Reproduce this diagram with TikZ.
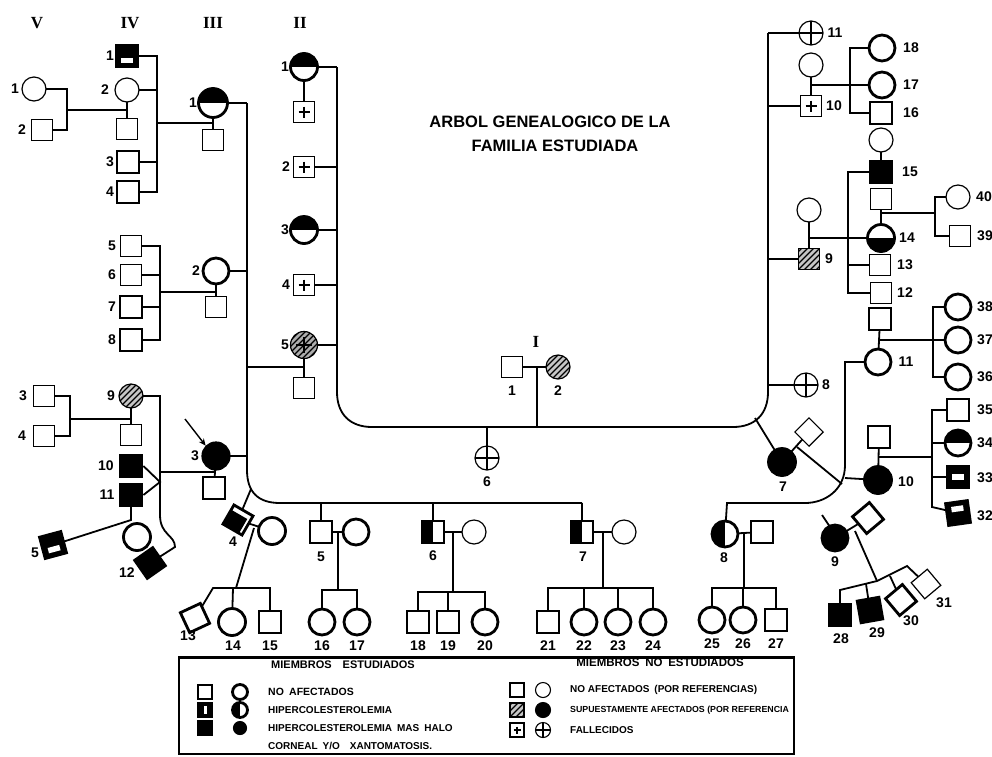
\documentclass[tikz,border=0pt]{standalone}
\usepackage{fontspec}
\setmainfont{Liberation Sans}
\newfontfamily\romf{Liberation Serif}
\usetikzlibrary{arrows.meta}
\pgfdeclarelayer{bg}
\pgfsetlayers{bg,main}
\begin{document}
\begin{tikzpicture}[x=1pt,y=-1pt,
 ln/.style={line width=1.8pt},
 sqn/.style={draw,rectangle,minimum size=21pt,inner sep=0pt,line width=1.2pt,fill=white},
 sqs/.style={sqn,line width=2.8pt,minimum size=22pt},
 cin/.style={draw,circle,minimum size=24pt,inner sep=0pt,line width=1.2pt,fill=white},
 cis/.style={cin,line width=2.8pt,minimum size=26pt},
 blk/.style={fill=black},
 lab/.style={font=\bfseries\fontsize{14}{14}\selectfont,inner sep=0pt},
 rom/.style={font=\romf\bfseries\fontsize{17}{17}\selectfont,inner sep=0pt},
 leg/.style={font=\bfseries\fontsize{10}{10}\selectfont,inner sep=0pt,anchor=west},
 htop/.style={path picture={\fill[black] (path picture bounding box.north west) rectangle (path picture bounding box.east);}},
 hbot/.style={path picture={\fill[black] (path picture bounding box.west) rectangle (path picture bounding box.south east);}},
 hleft/.style={path picture={\fill[black] (path picture bounding box.north west) rectangle (path picture bounding box.south);}},
 wbot/.style={fill=black,path picture={\fill[white] ([shift={(-6,1.5)}]path picture bounding box.center) rectangle ([shift={(6,7)}]path picture bounding box.center);}},
 wmid/.style={fill=black,path picture={\fill[white] ([shift={(-6,-3)}]path picture bounding box.center) rectangle ([shift={(6,3)}]path picture bounding box.center);}},
 wtop/.style={fill=black,path picture={\fill[white] ([shift={(-6,-7)}]path picture bounding box.center) rectangle ([shift={(6,-1.5)}]path picture bounding box.center);}},
 pls/.style={path picture={\draw[line width=1.6pt] ([shift={(-5.5,0)}]path picture bounding box.center) -- ([shift={(5.5,0)}]path picture bounding box.center) ([shift={(0,-5.5)}]path picture bounding box.center) -- ([shift={(0,5.5)}]path picture bounding box.center);}},
 plsc/.style={path picture={\draw[line width=1.6pt] ([shift={(-15,0)}]path picture bounding box.center) -- ([shift={(15,0)}]path picture bounding box.center) ([shift={(0,-15)}]path picture bounding box.center) -- ([shift={(0,15)}]path picture bounding box.center);}},
 hat/.style={fill=gray!45,path picture={\foreach \k in {-24,-18,...,24}{\draw[line width=1.1pt] ([shift={(\k-16,16)}]path picture bounding box.center) -- ++(32,-32);}}},
 hatp/.style={fill=gray!65,path picture={\foreach \k in {-24,-18,...,24}{\draw[line width=1.1pt] ([shift={(\k-16,16)}]path picture bounding box.center) -- ++(32,-32);} \draw[line width=2pt] ([shift={(-8,0)}]path picture bounding box.center) -- ([shift={(8,0)}]path picture bounding box.center) ([shift={(0,-8)}]path picture bounding box.center) -- ([shift={(0,8)}]path picture bounding box.center);}},
 lsq/.style={draw,rectangle,minimum size=14pt,inner sep=0pt,line width=1.1pt,fill=white},
 lsqs/.style={lsq,line width=2.5pt},
 lci/.style={draw,circle,minimum size=15pt,inner sep=0pt,line width=1.1pt,fill=white},
 lcis/.style={lci,line width=2.8pt},
]
\useasboundingbox (0,0) rectangle (992,756);

% ---------- generation labels and title
\node[rom] (gV) at (37,23) {V};
\node[rom] (gIV) at (130,23) {IV};
\node[rom] (gIII) at (213,23) {III};
\node[rom] (gII) at (300,23) {II};
\node[font=\bfseries\fontsize{16.5}{16}\selectfont,inner sep=0pt] (ti1) at (550,122) {ARBOL GENEALOGICO DE LA};
\node[font=\bfseries\fontsize{16.5}{16}\selectfont,inner sep=0pt] (ti2) at (555,146) {FAMILIA ESTUDIADA};

% ---------- left top
\node[sqs,wbot] (IVa) at (127,56) {};
\node[lab] (tIVa) at (110,56) {1};
\node[cin] (IVb) at (127,90) {};
\node[lab] (tIVb) at (105,90) {2};
\node[sqn] (IVbc) at (127,129) {};
\node[cin] (Va) at (34,89) {};
\node[lab] (tVa) at (15,89) {1};
\node[sqn] (Vb) at (42,130) {};
\node[lab] (tVb) at (22,130) {2};
\node[sqs] (IVc) at (128,162) {};
\node[lab] (tIVc) at (110,162) {3};
\node[sqs] (IVd) at (128,192) {};
\node[lab] (tIVd) at (110,192) {4};
\node[cis,htop,minimum size=29pt] (IIIa) at (213,103) {};
\node[lab] (tIIIa) at (193,103) {1};
\node[sqn] (IIIac) at (213,140) {};

% ---------- left middle
\node[sqn] (IVe) at (131,246) {};
\node[lab] (tIVe) at (112,246) {5};
\node[sqn] (IVf) at (131,275) {};
\node[lab] (tIVf) at (112,275) {6};
\node[sqs] (IVg) at (131,307) {};
\node[lab] (tIVg) at (112,307) {7};
\node[sqs] (IVh) at (131,340) {};
\node[lab] (tIVh) at (112,340) {8};
\node[cis] (IIIb) at (216,271) {};
\node[lab] (tIIIb) at (196,271) {2};
\node[sqn] (IIIbc) at (216,307) {};

% ---------- left lower
\node[sqn] (Vc) at (44,396) {};
\node[lab] (tVc) at (23,396) {3};
\node[sqn] (Vd) at (44,436) {};
\node[lab] (tVd) at (22,436) {4};
\node[cin,hat] (IVi) at (131,396) {};
\node[lab] (tIVi) at (111,396) {9};
\node[sqn] (IVic) at (131,435) {};
\node[sqs,blk] (IVj) at (131,466) {};
\node[lab] (tIVj) at (106,466) {10};
\node[sqs,blk] (IVk) at (131,495) {};
\node[lab] (tIVk) at (107,495) {11};
\node[cis,minimum size=27pt] (IVl) at (137,537) {};
\node[sqs,wbot,rotate=15] (Ve) at (53,545) {};
\node[lab] (tVe) at (35,553) {5};
\node[sqs,blk,rotate=35] (IVm) at (150,563) {};
\node[lab] (tIVm) at (127,573) {12};
\node[cin,blk,minimum size=28pt] (IIIc) at (216,456) {};
\node[lab] (tIIIc) at (195,456) {3};
\node[sqs] (IIIcc) at (214,488) {};
\coordinate (arw) at (185,419);
\draw[-{Stealth[length=7pt,width=6pt]},line width=1.4pt] (arw) -- (IIIc.north west);

% ---------- generation II column
\node[cis,htop,minimum size=27pt] (IIa) at (304,67) {};
\node[lab] (tIIa) at (285,67) {1};
\node[sqn,pls] (IIac) at (304,112) {};
\node[sqn,pls] (IIb) at (304,167) {};
\node[lab] (tIIb) at (286,167) {2};
\node[cis,htop,minimum size=27pt] (IIc) at (304,230) {};
\node[lab] (tIIc) at (285,230) {3};
\node[sqn,pls] (IId) at (304,285) {};
\node[lab] (tIId) at (286,285) {4};
\node[cin,hatp,minimum size=27pt] (IIe) at (304,345) {};
\node[lab] (tIIe) at (285,345) {5};
\node[sqn] (IIec) at (304,388) {};

% ---------- generation I
\node[sqn] (Ia) at (512,367) {};
\node[lab] (tIa) at (512,391) {1};
\node[cin,hat] (Ib) at (558,367) {};
\node[lab] (tIb) at (558,391) {2};
\node[font=\romf\bfseries\fontsize{17}{17}\selectfont,inner sep=0pt] (gI) at (536,342) {I};
\node[cin,plsc] (IIf) at (487,458) {};
\node[lab] (tIIf) at (487,482) {6};

% ---------- right upper
\node[cin,plsc] (Rk) at (811,33) {};
\node[lab] (tRk) at (835,33) {11};
\node[cin] (Rc1) at (811,65) {};
\node[sqn,pls] (Rj) at (811,106) {};
\node[lab] (tRj) at (834,106) {10};
\node[cis] (R18) at (882,48) {};
\node[lab] (tR18) at (911,48) {18};
\node[cis] (R17) at (882,85) {};
\node[lab] (tR17) at (911,85) {17};
\node[sqs] (R16) at (881,113) {};
\node[lab] (tR16) at (911,113) {16};
\node[cin] (Rc2) at (881,140) {};
\node[sqs,blk] (R15) at (881,172) {};
\node[lab] (tR15) at (910,172) {15};
\node[sqn] (Rs2) at (881,199) {};
\node[cis,hbot,minimum size=27pt] (R14) at (881,238) {};
\node[lab] (tR14) at (907,238) {14};
\node[cin] (R40) at (958,197) {};
\node[lab] (tR40) at (984,197) {40};
\node[sqn] (R39) at (960,236) {};
\node[lab] (tR39) at (985,236) {39};
\node[cin] (Rc3) at (809,210) {};
\node[sqn,hat] (R9) at (809,259) {};
\node[lab] (tR9) at (829,259) {9};
\node[sqn] (R13) at (880,265) {};
\node[lab] (tR13) at (905,265) {13};
\node[sqn] (R12) at (881,293) {};
\node[lab] (tR12) at (905,293) {12};
\node[sqs] (Rs3) at (880,319) {};
\node[cis] (R11) at (878,362) {};
\node[lab] (tR11) at (906,362) {11};
\node[cis] (R38) at (958,307) {};
\node[lab] (tR38) at (985,307) {38};
\node[cis] (R37) at (958,340) {};
\node[lab] (tR37) at (985,340) {37};
\node[cis] (R36) at (958,377) {};
\node[lab] (tR36) at (985,377) {36};
\node[cin,plsc] (R8) at (806,385) {};
\node[lab] (tR8) at (826,385) {8};

% ---------- right lower
\node[sqs] (Rs4) at (879,437) {};
\node[cis,blk,minimum size=27pt] (R10) at (878,480) {};
\node[lab] (tR10) at (906,482) {10};
\node[sqs] (R35) at (958,410) {};
\node[lab] (tR35) at (985,410) {35};
\node[cis,htop] (R34) at (958,443) {};
\node[lab] (tR34) at (985,443) {34};
\node[sqs,wmid] (R33) at (958,477) {};
\node[lab] (tR33) at (985,478) {33};
\node[sqs,wtop,rotate=8] (R32) at (958,513) {};
\node[lab] (tR32) at (985,516) {32};
\node[cis,blk,minimum size=27pt] (R7) at (782,462) {};
\node[lab] (tR7) at (783,487) {7};
\node[sqn,minimum size=20pt,rotate=45] (R7w) at (809,432) {};

% ---------- bottom row
\node[sqs,hleft,rotate=-30] (B4) at (238,520) {};
\node[lab] (tB4) at (233,542) {4};
\node[cis,minimum size=27pt] (B4w) at (272,531) {};
\node[sqs,rotate=25] (B13) at (195,618) {};
\node[lab] (tB13) at (188,636) {13};
\node[cis,minimum size=27pt] (B14) at (232,622) {};
\node[lab] (tB14) at (233,646) {14};
\node[sqs] (B15) at (270,622) {};
\node[lab] (tB15) at (270,646) {15};
\node[sqs] (B5) at (321,532) {};
\node[lab] (tB5) at (321,557) {5};
\node[cis] (B5w) at (356,532) {};
\node[cis] (B16) at (322,622) {};
\node[lab] (tB16) at (322,646) {16};
\node[cis] (B17) at (357,622) {};
\node[lab] (tB17) at (357,646) {17};
\node[sqs,hleft] (B6) at (433,532) {};
\node[lab] (tB6) at (433,556) {6};
\node[cin] (B6w) at (474,532) {};
\node[sqs] (B18) at (418,622) {};
\node[lab] (tB18) at (418,646) {18};
\node[sqs] (B19) at (448,622) {};
\node[lab] (tB19) at (448,646) {19};
\node[cis] (B20) at (485,622) {};
\node[lab] (tB20) at (485,646) {20};
\node[sqs,hleft] (B7) at (582,532) {};
\node[lab] (tB7) at (583,557) {7};
\node[cin] (B7w) at (624,532) {};
\node[sqs] (B21) at (548,622) {};
\node[lab] (tB21) at (548,646) {21};
\node[cis] (B22) at (584,622) {};
\node[lab] (tB22) at (584,646) {22};
\node[cis] (B23) at (618,622) {};
\node[lab] (tB23) at (618,646) {23};
\node[cis] (B24) at (653,622) {};
\node[lab] (tB24) at (653,646) {24};
\node[cis,hleft] (B8) at (725,534) {};
\node[lab] (tB8) at (724,558) {8};
\node[sqs] (B8w) at (762,532) {};
\node[cis] (B25) at (712,620) {};
\node[lab] (tB25) at (712,644) {25};
\node[cis] (B26) at (743,620) {};
\node[lab] (tB26) at (743,644) {26};
\node[sqs] (B27) at (776,620) {};
\node[lab] (tB27) at (776,644) {27};
\node[cis,blk] (B9) at (835,538) {};
\node[lab] (tB9) at (835,562) {9};
\node[sqs,rotate=40] (B9w) at (868,518) {};
\node[sqs,blk] (B28) at (840,615) {};
\node[lab] (tB28) at (841,639) {28};
\node[sqs,blk,rotate=10] (B29) at (870,610) {};
\node[lab] (tB29) at (877,633) {29};
\node[sqs,rotate=40] (B30) at (901,600) {};
\node[lab] (tB30) at (911,621) {30};
\node[sqn,rotate=40] (B31) at (926,584) {};
\node[lab] (tB31) at (944,603) {31};

% ---------- legend
\node[draw,line width=1.5pt,minimum width=615pt,minimum height=96pt,inner sep=0pt,anchor=north west] (legbox) at (178,657) {};
\node[font=\bfseries\fontsize{11}{11}\selectfont,inner sep=0pt] (lh1) at (343,665) {MIEMBROS\quad ESTUDIADOS};
\node[font=\bfseries\fontsize{11.5}{11}\selectfont,inner sep=0pt] (lh2) at (660,663) {MIEMBROS\enspace NO\enspace ESTUDIADOS};
\node[lsqs] (k1) at (205,692) {};
\node[lcis] (k2) at (240,692) {};
\node[lsqs,blk,path picture={\fill[white] ([shift={(-1.5,-4)}]path picture bounding box.center) rectangle ([shift={(1.5,4)}]path picture bounding box.center);}] (k3) at (205,710) {};
\node[lcis,hleft] (k4) at (240,710) {};
\node[lsqs,blk] (k5) at (205,728) {};
\node[lci,blk,minimum size=13pt] (k6) at (240,728) {};
\node[leg,font=\bfseries\fontsize{10.5}{10}\selectfont] (lt1) at (268,692) {NO\enspace AFECTADOS};
\node[leg] (lt2) at (268,710) {HIPERCOLESTEROLEMIA};
\node[leg] (lt3) at (268,728) {HIPERCOLESTEROLEMIA\enspace MAS\enspace HALO};
\node[leg] (lt4) at (268,746) {CORNEAL\enspace Y/O\quad XANTOMATOSIS.};
\node[lsq] (k7) at (517,690) {};
\node[lci] (k8) at (543,690) {};
\node[lsq,hat] (k9) at (517,710) {};
\node[lci,blk] (k10) at (543,710) {};
\node[lsq,path picture={\draw[line width=1.4pt] ([shift={(-3.5,0)}]path picture bounding box.center) -- ([shift={(3.5,0)}]path picture bounding box.center) ([shift={(0,-3.5)}]path picture bounding box.center) -- ([shift={(0,3.5)}]path picture bounding box.center);}] (k11) at (517,730) {};
\node[lci,plsc] (k12) at (543,730) {};
\node[leg] (lt5) at (570,690) {NO AFECTADOS\enspace (POR REFERENCIAS)};
\node[leg,font=\bfseries\fontsize{8.8}{9}\selectfont] (lt6) at (570,710) {SUPUESTAMENTE AFECTADOS (POR REFERENCIA};
\node[leg] (lt7) at (570,730) {FALLECIDOS};

% ---------- connectors
\begin{pgfonlayer}{bg}
\fill[white] (0,0) rectangle (992,756);
\draw[line width=2.6pt] (legbox.north west) -- (legbox.north east);
% left top
\draw[ln] (IVa.center) -- (157,56) -- (157,192) -- (IVd.center);
\draw[ln] (IVb.center) -- (157,90);
\draw[ln] (IVc.center) -- (157,162);
\draw[ln] (157,123) -- (213,123);
\draw[ln] (IIIa.center) -- (IIIac.center);
\draw[ln] (IVb.center) -- (IVbc.center);
\draw[ln] (67,110) -- (127,110);
\draw[ln] (Va.center) -- (67,89) -- (67,130) -- (Vb.center);
\draw[ln] (IIIa.center) -- (247,103);
% left middle
\draw[ln] (IVe.center) -- (160,246) -- (160,340) -- (IVh.center);
\draw[ln] (IVf.center) -- (160,275);
\draw[ln] (IVg.center) -- (160,307);
\draw[ln] (160,292) -- (216,292);
\draw[ln] (IIIb.center) -- (IIIbc.center);
\draw[ln] (IIIb.center) -- (247,271);
% left lower
\draw[ln] (Vc.center) -- (70,396) -- (70,436) -- (Vd.center);
\draw[ln] (70,419) -- (131,419);
\draw[ln] (IVi.center) -- (IVic.center);
\draw[ln] (IVi.center) -- (160,396) -- (160,515) .. controls (160,535) and (175,535) .. (175,547) -- (IVm.center);
\draw[ln] (IVj.east) -- (160,482) -- (IVk.east);
\draw[ln] (IVk.center) -- (131,520) -- (Ve.center);
\draw[ln] (IIIc.center) -- (IIIcc.center);
\draw[ln] (160,472) -- (214,472);
\draw[ln] (IIIc.center) -- (247,456);
% generation II column
\draw[ln] (IIa.center) -- (IIac.center);
\draw[ln] (IIa.center) -- (337,67);
\draw[ln] (IIb.center) -- (337,167);
\draw[ln] (IIc.center) -- (337,230);
\draw[ln] (IId.center) -- (337,285);
\draw[ln] (IIe.center) -- (337,345);
\draw[ln] (IIe.center) -- (IIec.center);
\draw[ln] (247,367) -- (304,367);
% big left line
\draw[ln] (247,103) -- (247,470) .. controls (247,492) and (258,503) .. (280,503) -- (582,503);
\draw[ln] (321,503) -- (B5.center);
\draw[ln] (433,503) -- (B6.center);
\draw[ln] (582,503) -- (B7.center);
\draw[ln] (251,489) -- (B4.center);
% central line
\draw[ln] (337,67) -- (337,392) .. controls (337,414) and (350,427) .. (372,427) -- (733,427) .. controls (755,427) and (768,414) .. (768,392) -- (768,33);
\draw[ln] (537,427) -- (537,367);
\draw[ln] (Ia.center) -- (Ib.center);
\draw[ln] (487,427) -- (IIf.center);
% right upper
\draw[ln] (768,33) -- (Rk.center);
\draw[ln] (768,106) -- (Rj.center);
\draw[ln] (Rc1.center) -- (Rj.center);
\draw[ln] (811,85) -- (R17.center);
\draw[ln] (R18.center) -- (850,48) -- (850,113) -- (R16.center);
\draw[ln] (Rc2.center) -- (R15.center);
\draw[ln] (Rs2.center) -- (R14.center);
\draw[ln] (881,213) -- (935,213);
\draw[ln] (R40.center) -- (935,197) -- (935,236) -- (R39.center);
\draw[ln] (Rc3.center) -- (R9.center);
\draw[ln] (809,238) -- (R14.center);
\draw[ln] (768,259) -- (R9.center);
\draw[ln] (R15.center) -- (848,172) -- (848,293) -- (R12.center);
\draw[ln] (848,265) -- (R13.center);
\draw[ln] (Rs3.center) -- (R11.center);
\draw[ln] (880,340) -- (933,340);
\draw[ln] (R38.center) -- (933,307) -- (933,377) -- (R36.center);
\draw[ln] (933,340) -- (R37.center);
\draw[ln] (768,385) -- (R8.center);
% right lower
\draw[ln] (R11.center) -- (845,362) -- (845,465) .. controls (845,490) and (825,503) .. (805,503) -- (727,503) -- (B8.center);
\draw[ln] (845,478) -- (R10.center);
\draw[ln] (Rs4.center) -- (R10.center);
\draw[ln] (879,457) -- (932,457);
\draw[ln] (R35.center) -- (932,410) -- (932,507) -- (R32.center);
\draw[ln] (932,443) -- (R34.center);
\draw[ln] (932,477) -- (R33.center);
\draw[ln] (755,418) -- (R7.center);
\draw[ln] (R7.center) -- (R7w.center);
\draw[ln] (797,447) -- (842,484);
% bottom row
\draw[ln] (B4.center) -- (B4w.center);
\draw[ln] (254,528) -- (236,588);
\draw[ln] (B13.center) -- (213,588) -- (270,588) -- (B15.center);
\draw[ln] (233,588) -- (B14.center);
\draw[ln] (B5.center) -- (B5w.center);
\draw[ln] (338,532) -- (338,590);
\draw[ln] (B16.center) -- (322,590) -- (357,590) -- (B17.center);
\draw[ln] (B6.center) -- (B6w.center);
\draw[ln] (453,532) -- (453,592);
\draw[ln] (B18.center) -- (418,592) -- (485,592) -- (B20.center);
\draw[ln] (448,592) -- (B19.center);
\draw[ln] (B7.center) -- (B7w.center);
\draw[ln] (603,532) -- (603,588);
\draw[ln] (B21.center) -- (548,588) -- (653,588) -- (B24.center);
\draw[ln] (584,588) -- (B22.center);
\draw[ln] (618,588) -- (B23.center);
\draw[ln] (B8.center) -- (B8w.center);
\draw[ln] (744,532) -- (744,588);
\draw[ln] (B25.center) -- (712,588) -- (776,588) -- (B27.center);
\draw[ln] (743,588) -- (B26.center);
\draw[ln] (B9.center) -- (B9w.center);
\draw[ln] (822,515) -- (830,527);
\draw[ln] (855,531) -- (877,581);
\draw[ln] (B28.center) -- (840,590) -- (877,581) -- (907,566) -- (B31.center);
\draw[ln] (866,584) -- (B29.center);
\draw[ln] (890,576) -- (B30.center);
\end{pgfonlayer}
\end{tikzpicture}
\end{document}
